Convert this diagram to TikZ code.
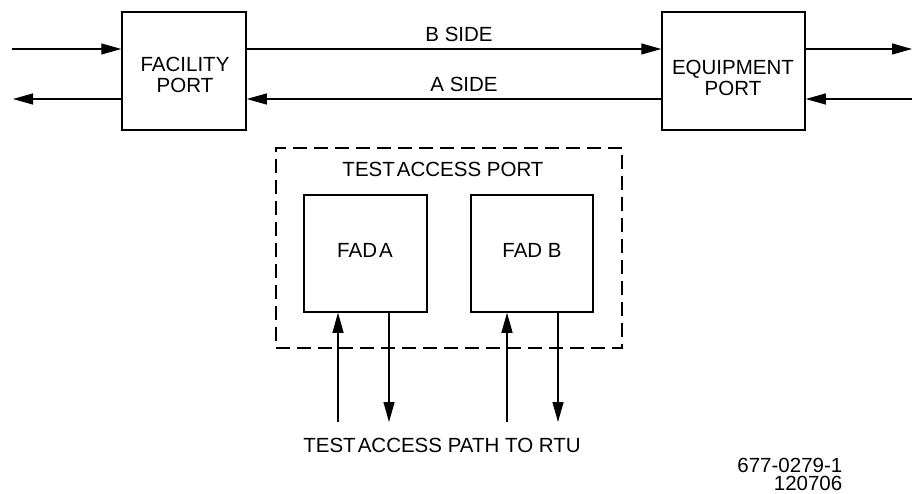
\documentclass[tikz,border=0pt]{standalone}
\usepackage{fontspec}
\setmainfont{Liberation Sans}
\usetikzlibrary{arrows.meta}
\begin{document}
\begin{tikzpicture}[x=1pt,y=-1pt,
  port/.style={draw,line width=1.5pt,inner sep=0pt},
  dashbox/.style={draw,line width=1.1pt,dash pattern=on 14pt off 7pt},
  sig/.style={line width=1.2pt,-{Triangle[length=20pt,width=11pt]}},
  lbl/.style={font=\fontsize{20.5}{21}\selectfont,inner sep=0pt,align=center,anchor=base}]
\useasboundingbox (0,0) rectangle (912,494);
% port blocks (the base of a two-line label is its last line)
\node[port,minimum width=124pt,minimum height=118pt] (fac) at (184,71) {};
\node[lbl] (facl) at (185,93) {FACILITY\\PORT};
\node[port,minimum width=143pt,minimum height=118pt] (eqp) at (733.5,71) {};
\node[lbl] (eqpl) at (733,96) {EQUIPMENT\\PORT};
% external ends
\coordinate (lin) at (12,49);
\coordinate (lout) at (13,99);
\coordinate (rout) at (912,49);
\coordinate (rin) at (912,99);
\draw[sig] (lin) -- (lin -| fac.west);
\draw[sig] (lout -| fac.west) -- (lout);
\draw[sig] (rout -| eqp.east) -- (rout);
\draw[sig] (rin) -- (rin -| eqp.east);
% B and A sides
\draw[sig] (fac.east |- lin) -- (eqp.west |- lin);
\draw[sig] (eqp.west |- lout) -- (fac.east |- lout);
\node[lbl] (bside) at (459,42) {B SIDE};
\node[lbl] (aside) at (464,92) {A SIDE};
% test access port
\node[dashbox,minimum width=346pt,minimum height=200pt,inner sep=0pt] (tap) at (449,248) {};
\node[lbl] (taplbl) at (443,177) {TEST\hspace{0.1em}ACCESS PORT};
\node[port,minimum width=123pt,minimum height=117pt] (fada) at (365.5,253.5) {};
\node[lbl] (fadal) at (365,258) {FAD\hspace{0.1em}A};
\node[port,minimum width=122pt,minimum height=117pt] (fadb) at (532,253.5) {};
\node[lbl] (fadbl) at (532,258) {FAD B};
% access path
\coordinate (a1) at (338,422);
\coordinate (a2) at (389,422);
\coordinate (b1) at (507,422);
\coordinate (b2) at (558,422);
\draw[sig] (a1) -- (a1 |- fada.south);
\draw[sig] (a2 |- fada.south) -- (a2);
\draw[sig] (b1) -- (b1 |- fadb.south);
\draw[sig] (b2 |- fadb.south) -- (b2);
\node[lbl] (path) at (442,452) {TEST\hspace{0.1em}ACCESS PATH TO RTU};
% drawing number and date
\node[lbl,anchor=base east,align=right,font=\fontsize{20.5}{18}\selectfont] (num) at (842.5,490) {677-0279-1\\120706};
\end{tikzpicture}
\end{document}
